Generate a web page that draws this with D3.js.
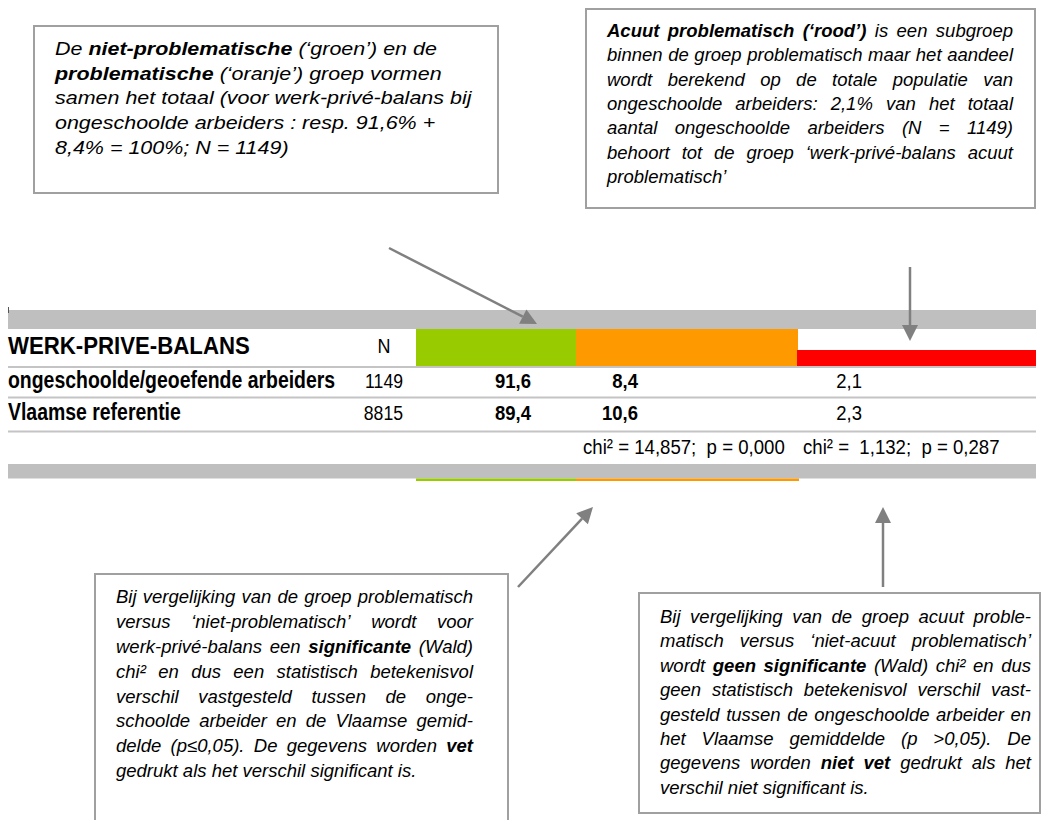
<!DOCTYPE html>
<html><head><meta charset="utf-8">
<script src="https://cdn.jsdelivr.net/npm/d3@7"></script>
<style>html,body{margin:0;padding:0;background:#fff;} svg{display:block;}</style>
</head><body><svg id="c" width="1043" height="820"></svg>
<script>
// ---------- DATA ----------
const title = "WERK-PRIVE-BALANS";
const nHeader = "N";
const groups = ["ongeschoolde/geoefende arbeiders", "Vlaamse referentie"];
const nValues = [1149, 8815];
const nietProblematisch = [91.6, 89.4];   // groen
const problematisch = [8.4, 10.6];        // oranje
const acuutProblematisch = [2.1, 2.3];    // rood
const significantProblematisch = true;    // bold values
const significantAcuut = false;
const chiValues = [14.857, 1.132];
const pValues = [0.000, 0.287];

const box1Lines = [
  [{t:"De "},{t:"niet-problematische",b:1},{t:" (‘groen’) en de"}],
  [{t:"problematische",b:1},{t:" (‘oranje’) groep vormen"}],
  [{t:"samen het totaal (voor werk-privé-balans bij"}],
  [{t:"ongeschoolde arbeiders : resp. 91,6% +"}],
  [{t:"8,4% = 100%; N = 1149)"}]
];
const box2Lines = [
  [{t:"Acuut problematisch (‘rood’)",b:1},{t:" is een subgroep"}],
  [{t:"binnen de groep problematisch maar het aandeel"}],
  [{t:"wordt berekend op de totale populatie van"}],
  [{t:"ongeschoolde arbeiders: 2,1% van het totaal"}],
  [{t:"aantal ongeschoolde arbeiders (N = 1149)"}],
  [{t:"behoort tot de groep ‘werk-privé-balans acuut"}],
  [{t:"problematisch’"}]
];
const box3Lines = [
  [{t:"Bij vergelijking van de groep problematisch"}],
  [{t:"versus ‘niet-problematisch’ wordt voor"}],
  [{t:"werk-privé-balans een "},{t:"significante",b:1},{t:" (Wald)"}],
  [{t:"chi² en dus een statistisch betekenisvol"}],
  [{t:"verschil vastgesteld tussen de onge-"}],
  [{t:"schoolde arbeider en de Vlaamse gemid-"}],
  [{t:"delde (p≤0,05). De gegevens worden "},{t:"vet",b:1}],
  [{t:"gedrukt als het verschil significant is."}]
];
const box4Lines = [
  [{t:"Bij vergelijking van de groep acuut proble-"}],
  [{t:"matisch versus ‘niet-acuut problematisch’"}],
  [{t:"wordt "},{t:"geen significante",b:1},{t:" (Wald) chi² en dus"}],
  [{t:"geen statistisch betekenisvol verschil vast-"}],
  [{t:"gesteld tussen de ongeschoolde arbeider en"}],
  [{t:"het Vlaamse gemiddelde (p >0,05). De"}],
  [{t:"gegevens worden "},{t:"niet vet",b:1},{t:" gedrukt als het"}],
  [{t:"verschil niet significant is."}]
];

// ---------- SETUP ----------
const svg = d3.select("#c");
const FONT = "'Liberation Sans', Arial, Helvetica, sans-serif";
const loc = d3.formatLocale({decimal: ",", thousands: ".", grouping: [3], currency: ["€", ""]});
const f1 = loc.format(".1f"), f3 = loc.format(".3f");
const GRAY = "#bfbfbf", LINE = "#c4c4c4", ARROW = "#808080", BORDER = "#a0a0a0";

const meas = svg.append("text").attr("x", -2000).attr("y", -2000)
  .style("font-family", FONT).style("white-space", "pre");
function tw(t, size, bold, italic) {
  meas.attr("font-size", size).attr("font-weight", bold ? "bold" : "normal")
    .attr("font-style", italic ? "italic" : "normal").text(t);
  return meas.node().getComputedTextLength();
}

// ---------- TABLE ----------
const L = 8, R = 1036;
// columns (x extents)
const cols = {
  groen:  {x0: 416, x1: 576, color: "#99cc00", valueRight: 531},
  oranje: {x0: 576, x1: 798, color: "#ff9900", valueRight: 638},
  rood:   {x0: 797, x1: R,   color: "#ff0000", valueRight: 862}
};
const headTop = 329, headBot = 366;
svg.append("rect").attr("x", L).attr("y", 310).attr("width", R - L).attr("height", headTop - 310).attr("fill", GRAY);
svg.append("line").attr("x1", 8.5).attr("x2", 8.5).attr("y1", 307).attr("y2", 313).attr("stroke", "#555").attr("stroke-width", 1);

// header colour cells
const hScale = d3.scaleLinear().domain([0, 1]).range([headBot, headTop]);
svg.append("rect").attr("x", cols.groen.x0).attr("y", hScale(1)).attr("width", cols.groen.x1 - cols.groen.x0)
  .attr("height", hScale(0) - hScale(1)).attr("fill", cols.groen.color);
svg.append("rect").attr("x", cols.oranje.x0).attr("y", hScale(1)).attr("width", cols.oranje.x1 - cols.oranje.x0)
  .attr("height", hScale(0) - hScale(1)).attr("fill", cols.oranje.color);
svg.append("rect").attr("x", cols.rood.x0).attr("y", 350).attr("width", cols.rood.x1 - cols.rood.x0)
  .attr("height", headBot - 350).attr("fill", cols.rood.color);

function stext(x, y, t, size, sx, opts = {}) {
  return svg.append("text")
    .attr("transform", `translate(${x},${y}) scale(${sx},1)`)
    .attr("font-size", size).style("font-family", FONT)
    .attr("font-weight", opts.bold ? "bold" : "normal")
    .attr("font-style", opts.italic ? "italic" : "normal")
    .attr("text-anchor", opts.anchor || "start")
    .style("white-space", "pre")
    .attr("fill", "#000").text(t);
}
stext(L, 354, title, 23.5, 0.945, {bold: true});
stext(384, 353, nHeader, 20, 0.9, {anchor: "middle"});

// rows
const y = d3.scaleBand().domain(groups).range([367, 431]);
// separators
[366, 396.5, 430.5].forEach(yy =>
  svg.append("rect").attr("x", L).attr("y", yy).attr("width", R - L).attr("height", 2).attr("fill", LINE));

groups.forEach((g, i) => {
  const base = y(g) + 21;
  stext(L, base, g, 24, 0.81, {bold: true});
  stext(403, base, String(nValues[i]), 21, 0.84, {anchor: "end"});
  stext(cols.groen.valueRight, base, f1(nietProblematisch[i]), 21, 0.88, {anchor: "end", bold: significantProblematisch});
  stext(cols.oranje.valueRight, base, f1(problematisch[i]), 21, 0.88, {anchor: "end", bold: significantProblematisch});
  stext(cols.rood.valueRight, base, f1(acuutProblematisch[i]), 21, 0.88, {anchor: "end", bold: significantAcuut});
});
stext(583, 454, `chi² = ${f3(chiValues[0])};  p = ${f3(pValues[0])}`, 21, 0.887);
stext(803, 454, `chi² =  ${f3(chiValues[1])};  p = ${f3(pValues[1])}`, 21, 0.887);

// bottom band
svg.append("rect").attr("x", L).attr("y", 464).attr("width", R - L).attr("height", 14.5).attr("fill", GRAY);
svg.append("rect").attr("x", cols.groen.x0).attr("y", 478.5).attr("width", cols.groen.x1 - cols.groen.x0).attr("height", 2.5).attr("fill", cols.groen.color);
svg.append("rect").attr("x", cols.oranje.x0).attr("y", 478.5).attr("width", cols.oranje.x1 - cols.oranje.x0 + 1).attr("height", 2.5).attr("fill", cols.oranje.color);

// ---------- ARROWS ----------
function arrow(x1, y1, x2, y2) {
  const ang = Math.atan2(y2 - y1, x2 - x1);
  const hl = 16, hw = 8;
  const bx = x2 - hl * Math.cos(ang), by = y2 - hl * Math.sin(ang);
  svg.append("line").attr("x1", x1).attr("y1", y1).attr("x2", bx).attr("y2", by)
    .attr("stroke", ARROW).attr("stroke-width", 2.5);
  const px = -Math.sin(ang) * hw, py = Math.cos(ang) * hw;
  svg.append("path").attr("d", `M${x2},${y2}L${bx + px},${by + py}L${bx - px},${by - py}Z`).attr("fill", ARROW);
}
arrow(389, 248, 537, 324);
arrow(910, 267, 910, 341);
arrow(518, 587, 593, 507);
arrow(883, 587, 883, 507);

// ---------- TEXT BOXES ----------
function drawBox(c) {
  svg.append("rect").attr("x", c.x0).attr("y", c.y0).attr("width", c.x1 - c.x0).attr("height", c.y1 - c.y0)
    .attr("fill", "#fff").attr("stroke", BORDER).attr("stroke-width", 2);
  const g = svg.append("g").attr("transform", `translate(${c.tx},0) scale(${c.sx},1)`);
  const W = c.tw / c.sx;
  const sp = tw("a a", c.size, false, true) - tw("aa", c.size, false, true);
  c.lines.forEach((segs, i) => {
    const toks = [];
    segs.forEach(s => s.t.split(" ").filter(w => w.length).forEach(w => toks.push({w, b: !!s.b})));
    toks.forEach(t => t.width = tw(t.w, c.size, t.b, true));
    const sum = d3.sum(toks, t => t.width);
    const last = i === c.lines.length - 1;
    let gap = sp;
    if (c.justify && !last && toks.length > 1) gap = (W - sum) / (toks.length - 1);
    let x = 0;
    const yy = c.b0 + i * c.step;
    toks.forEach(t => {
      g.append("text").attr("x", x).attr("y", yy).attr("font-size", c.size)
        .style("font-family", FONT).attr("font-style", "italic")
        .attr("font-weight", t.b ? "bold" : "normal").attr("fill", "#000").text(t.w);
      x += t.width + gap;
    });
  });
}
drawBox({x0: 34, y0: 26, x1: 498, y1: 193, tx: 55, tw: 420, sx: 1.13, size: 19, b0: 55, step: 24.7, lines: box1Lines, justify: false});
drawBox({x0: 586, y0: 9, x1: 1035, y1: 208, tx: 607, tw: 406, sx: 1.0, size: 18.5, b0: 36.8, step: 24.4, lines: box2Lines, justify: true});
drawBox({x0: 95, y0: 574, x1: 508, y1: 840, tx: 116, tw: 357, sx: 1.0, size: 18.5, b0: 603.3, step: 24.8, lines: box3Lines, justify: true});
drawBox({x0: 639, y0: 593, x1: 1040, y1: 813, tx: 660, tw: 371, sx: 1.0, size: 18.5, b0: 623, step: 24.4, lines: box4Lines, justify: true});
meas.remove();
</script></body></html>
